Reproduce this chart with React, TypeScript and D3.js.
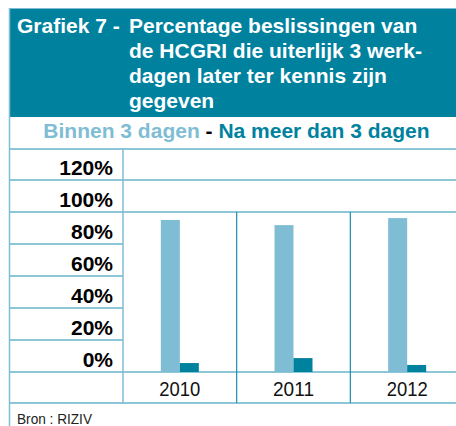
import React from 'react'
import * as d3 from 'd3'

const years = ['2010', '2011', '2012']
const series = ['Binnen 3 dagen', 'Na meer dan 3 dagen']
const binnen = [95, 91.8, 96.2]
const naMeer = [5.6, 8.7, 4.4]
const ticks = [0, 20, 40, 60, 80, 100, 120]
const titleLines = [
  'Percentage beslissingen van',
  'de HCGRI die uiterlijk 3 werk-',
  'dagen later ter kennis zijn',
  'gegeven',
]

const W = 456
const H = 426
const DARK = '#00829f'
const LIGHT = '#7fbdd4'
const LINE = '#1a8db0'
const FONT = '"Liberation Sans", Arial, Helvetica, sans-serif'

export default function App() {
  const left = 9
  const labelRight = 123
  const plotRight = 464
  const tableTop = 149
  const tableBottom = 403

  const x = d3.scaleBand<string>().domain(years).range([labelRight, plotRight]).padding(0)
  const y = d3.scaleLinear().domain([0, 120]).range([372, 180])
  const barW = 19
  const sub = d3.scaleBand<string>().domain(series).range([-barW, barW]).padding(0)
  const values = [binnen, naMeer]
  const colors = [LIGHT, DARK]

  const center = (yr: string) => (x(yr) ?? 0) + x.bandwidth() / 2

  return (
    <svg
      width={W}
      height={H}
      style={{ position: 'absolute', left: 0, top: 0, fontFamily: FONT }}
    >
      <rect width={W} height={H} fill="#fff" />

      {/* title block */}
      <rect x={left} y={8} width={W - left} height={109} fill={DARK} />
      <line x1={left} x2={W} y1={8.5} y2={8.5} stroke={LIGHT} strokeWidth={1} />
      <text x={17} y={32.5} fill="#fff" fontSize={21} fontWeight="bold">Grafiek 7 -</text>
      {titleLines.map((t, i) => (
        <text key={i} x={129} y={32.5 + i * 25.3} fill="#fff" fontSize={21} fontWeight="bold">
          {t}
        </text>
      ))}

      {/* legend */}
      <text x={236.5} y={138} textAnchor="middle" fontSize={21} fontWeight="bold">
        <tspan fill={LIGHT}>{series[0]}</tspan>
        <tspan fill="#000"> - </tspan>
        <tspan fill={DARK}>{series[1]}</tspan>
      </text>

      {/* label column grid */}
      {ticks.map(t => (
        <line key={t} x1={left} x2={labelRight} y1={y(t)} y2={y(t)} stroke={LINE} strokeWidth={1.2} />
      ))}
      {/* plot grid: only upper lines */}
      {[100, 120].map(t => (
        <line key={'g' + t} x1={labelRight} x2={W} y1={y(t)} y2={y(t)} stroke={LINE} strokeWidth={1.2} />
      ))}
      <line x1={left} x2={W} y1={tableTop} y2={tableTop} stroke={LINE} strokeWidth={1.2} />
      <line x1={labelRight} x2={W} y1={y(0)} y2={y(0)} stroke={LINE} strokeWidth={1.2} />
      <line x1={left} x2={W} y1={tableBottom} y2={tableBottom} stroke={LINE} strokeWidth={1.2} />

      {/* vertical separators */}
      <line x1={left + 0.5} x2={left + 0.5} y1={8} y2={H} stroke={LIGHT} strokeWidth={1.5} />
      <line x1={labelRight} x2={labelRight} y1={tableTop} y2={tableBottom} stroke={LIGHT} strokeWidth={1.5} />
      {years.slice(1).map(yr => (
        <line key={'v' + yr} x1={x(yr)} x2={x(yr)} y1={y(100)} y2={tableBottom} stroke={LINE} strokeWidth={1.2} />
      ))}

      {/* tick labels */}
      {ticks.map(t => (
        <text key={'t' + t} x={113} y={y(t) - 5.5} textAnchor="end" fontSize={21} fontWeight="bold" fill="#000">
          {t}%
        </text>
      ))}

      {/* bars */}
      {years.map((yr, i) =>
        series.map((s, j) => (
          <rect
            key={yr + s}
            x={center(yr) + (sub(s) ?? 0)}
            y={y(values[j][i])}
            width={sub.bandwidth()}
            height={y(0) - y(values[j][i])}
            fill={colors[j]}
          />
        ))
      )}

      {/* year labels */}
      {years.map(yr => (
        <text
          key={'y' + yr}
          x={center(yr) - 20.5}
          y={396}
          fontSize={21}
          fill="#111"
          textLength={41}
          lengthAdjust="spacingAndGlyphs"
        >
          {yr}
        </text>
      ))}

      <text x={17} y={424} fontSize={15} fill="#222" textLength={75} lengthAdjust="spacingAndGlyphs">
        Bron : RIZIV
      </text>
    </svg>
  )
}
